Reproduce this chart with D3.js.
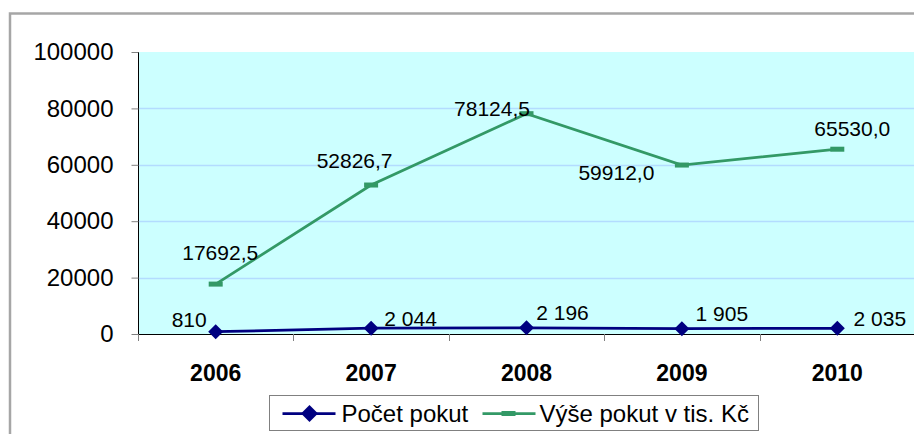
<!DOCTYPE html>
<html>
<head>
<meta charset="utf-8">
<script src="https://cdn.jsdelivr.net/npm/d3@7"></script>
<style>
  body { margin: 0; background: #fff; }
  svg { display: block; font-family: Arial, "Liberation Sans", sans-serif; }
</style>
</head>
<body>
<svg id="chart" width="914" height="434"></svg>
<script>
var years = ["2006", "2007", "2008", "2009", "2010"];
var pocetPokut = [810, 2044, 2196, 1905, 2035];
var pocetLabels = ["810", "2 044", "2 196", "1 905", "2 035"];
var vysePokut = [17692.5, 52826.7, 78124.5, 59912.0, 65530.0];
var vyseLabels = ["17692,5", "52826,7", "78124,5", "59912,0", "65530,0"];
var yTicks = [0, 20000, 40000, 60000, 80000, 100000];
var seriesNames = ["Počet pokut", "Výše pokut v tis. Kč"];

var margin = {top: 52, right: 0, bottom: 100, left: 138};
var width = 914 - margin.left + 1;
var height = 434 - margin.top - margin.bottom;
var font = "Arial, 'Liberation Sans', sans-serif";

var svg = d3.select("#chart");

// outer frame
svg.append("rect")
  .attr("x", 10).attr("y", 13.5)
  .attr("width", 920).attr("height", 440)
  .attr("fill", "none").attr("stroke", "#a6a6a6").attr("stroke-width", 2.5);

var chart = svg.append("g")
  .attr("transform", "translate(" + margin.left + "," + margin.top + ")");

var x = d3.scaleBand().domain(years).range([0, width]);
var y = d3.scaleLinear().domain([0, 100000]).range([height, 0]);

chart.append("rect")
  .attr("width", width).attr("height", height)
  .attr("fill", "#ccffff");

chart.selectAll(".grid")
  .data(yTicks.slice(1, -1))
  .enter().append("line")
  .attr("x1", 0).attr("x2", width)
  .attr("y1", function(d) { return Math.round(y(d)) + 0.5; })
  .attr("y2", function(d) { return Math.round(y(d)) + 0.5; })
  .attr("stroke", "#b3dcff").attr("stroke-width", 1.5);

// y axis
var yAxis = chart.append("g")
  .attr("transform", "translate(0.5,0)")
  .call(d3.axisLeft(y).tickValues(yTicks).tickSize(7).tickPadding(18).tickFormat(d3.format("d")));
yAxis.select(".domain").attr("stroke", "#000").attr("d", "M0,0V" + height);
yAxis.selectAll(".tick line").attr("stroke", "#808080");
yAxis.selectAll(".tick text").attr("font-size", 24).attr("fill", "#000").attr("font-family", font);

// x axis
var xAxis = chart.append("g")
  .attr("transform", "translate(0," + (height + 0.5) + ")")
  .call(d3.axisBottom(x).tickSize(0).tickPadding(30));
xAxis.select(".domain").attr("stroke", "#000").attr("d", "M0,0H" + width);
xAxis.selectAll(".tick text").attr("font-size", 23).attr("font-weight", "bold").attr("fill", "#000")
  .attr("font-family", font);

// category separators below the axis
chart.selectAll(".xtick")
  .data(years)
  .enter().append("line")
  .attr("x1", function(d) { return Math.round(x(d)) + 0.5; })
  .attr("x2", function(d) { return Math.round(x(d)) + 0.5; })
  .attr("y1", height).attr("y2", height + 7)
  .attr("stroke", "#808080");

var cx = function(d, i) { return x(years[i]) + x.bandwidth() / 2; };

var line = d3.line()
  .x(function(d, i) { return x(years[i]) + x.bandwidth() / 2; })
  .y(function(d) { return y(d); });

// green series
chart.append("path")
  .datum(vysePokut)
  .attr("d", line)
  .attr("fill", "none").attr("stroke", "#339966").attr("stroke-width", 2.75);

chart.selectAll(".gm")
  .data(vysePokut)
  .enter().append("rect")
  .attr("x", function(d, i) { return cx(d, i) - 7; })
  .attr("y", function(d) { return y(d) - 2.5; })
  .attr("width", 14).attr("height", 5)
  .attr("fill", "#339966");

// navy series
chart.append("path")
  .datum(pocetPokut)
  .attr("d", line)
  .attr("fill", "none").attr("stroke", "#000080").attr("stroke-width", 2.75);

chart.selectAll(".nm")
  .data(pocetPokut)
  .enter().append("path")
  .attr("d", "M0,-7.5L7.5,0L0,7.5L-7.5,0Z")
  .attr("transform", function(d, i) { return "translate(" + cx(d, i) + "," + y(d) + ")"; })
  .attr("fill", "#000080");

// labels
var vyseOffsets = [[4.5, -32], [-16.5, -25], [-34.5, -5], [-65.5, 7], [15, -21]];
chart.selectAll(".vl")
  .data(vysePokut)
  .enter().append("text")
  .attr("x", function(d, i) { return cx(d, i) + vyseOffsets[i][0]; })
  .attr("y", function(d, i) { return y(d) + vyseOffsets[i][1]; })
  .attr("dy", "0.36em")
  .attr("text-anchor", "middle")
  .attr("font-size", 21).attr("fill", "#000")
  .text(function(d, i) { return vyseLabels[i]; });

var pocetOffsets = [[-26.5, -12], [39.5, -9.5], [36, -15], [40, -15], [42.5, -10]];
chart.selectAll(".pl")
  .data(pocetPokut)
  .enter().append("text")
  .attr("x", function(d, i) { return cx(d, i) + pocetOffsets[i][0]; })
  .attr("y", function(d, i) { return y(d) + pocetOffsets[i][1]; })
  .attr("dy", "0.36em")
  .attr("text-anchor", "middle")
  .attr("font-size", 21).attr("fill", "#000")
  .text(function(d, i) { return pocetLabels[i]; });

// legend
var legend = svg.append("g").attr("transform", "translate(269.5,395.5)");
legend.append("rect")
  .attr("width", 489).attr("height", 35)
  .attr("fill", "#fff").attr("stroke", "#808080").attr("stroke-width", 1);

legend.append("line").attr("x1", 13).attr("x2", 66).attr("y1", 18).attr("y2", 18)
  .attr("stroke", "#000080").attr("stroke-width", 2.75);
legend.append("path").attr("d", "M0,-8.5L8.5,0L0,8.5L-8.5,0Z")
  .attr("transform", "translate(40,18)").attr("fill", "#000080");
legend.append("text").attr("x", 72).attr("y", 18).attr("dy", "0.36em")
  .attr("font-size", 24).text(seriesNames[0]);

legend.append("line").attr("x1", 213).attr("x2", 266).attr("y1", 18).attr("y2", 18)
  .attr("stroke", "#339966").attr("stroke-width", 2.75);
legend.append("rect").attr("x", 232).attr("y", 15.5).attr("width", 14).attr("height", 5)
  .attr("fill", "#339966");
legend.append("text").attr("x", 270).attr("y", 18).attr("dy", "0.36em")
  .attr("font-size", 24).text(seriesNames[1]);
</script>
</body>
</html>
